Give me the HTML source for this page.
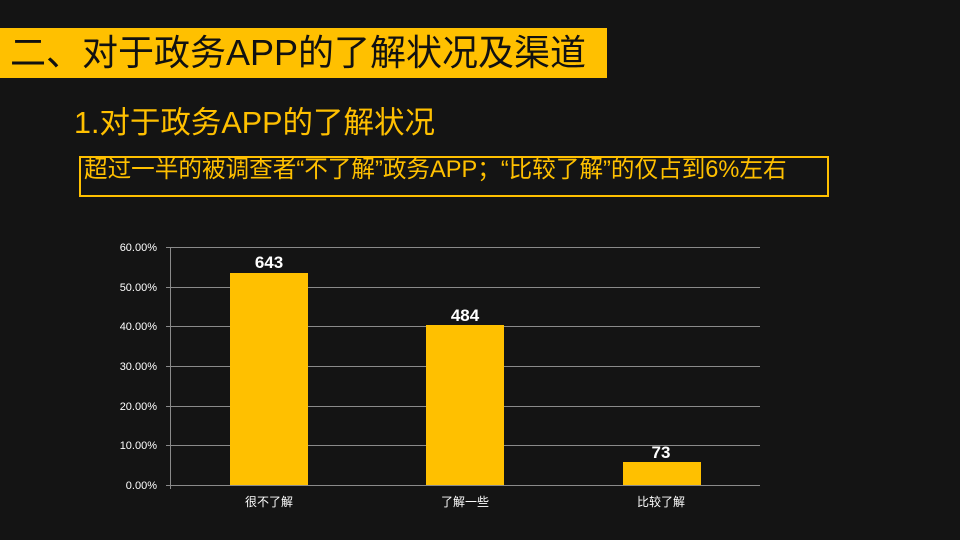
<!DOCTYPE html>
<html><head><meta charset="utf-8"><style>
body{margin:0;width:960px;height:540px;background:#141414;overflow:hidden;position:relative;font-family:"Liberation Sans","Noto Sans CJK SC",sans-serif}
.t{position:absolute;white-space:nowrap}
</style></head><body>
<div class="t" style="left:0;top:28px;width:607px;height:50px;background:#FFC000"></div>
<div class="t" style="left:10px;top:31px;font-size:36px;line-height:44px;color:#111">二、对于政务APP的了解状况及渠道</div>
<div class="t" style="left:74px;top:104px;font-size:30.5px;line-height:38px;color:#FFC000">1.对于政务APP的了解状况</div>
<div class="t" style="left:79px;top:156px;width:746px;height:37px;border:2px solid #FFC000"></div>
<div class="t" style="left:84px;top:155px;font-size:23.6px;line-height:30px;color:#FFC000">超过一半的被调查者“不了解”政务APP；“比较了解”的仅占到6%左右</div>
<svg width="960" height="540" style="position:absolute;left:0;top:0" font-family="Liberation Sans, Noto Sans CJK SC, sans-serif">
<g stroke="#8a8a8a" stroke-width="1">
<line x1="166" y1="247.5" x2="760" y2="247.5"/>
<line x1="166" y1="287.5" x2="760" y2="287.5"/>
<line x1="166" y1="326.5" x2="760" y2="326.5"/>
<line x1="166" y1="366.5" x2="760" y2="366.5"/>
<line x1="166" y1="406.5" x2="760" y2="406.5"/>
<line x1="166" y1="445.5" x2="760" y2="445.5"/>
<line x1="166" y1="485.5" x2="760" y2="485.5"/>
<line x1="170.5" y1="247" x2="170.5" y2="489"/>
</g>
<g fill="#fff" font-size="11" text-anchor="end">
<text x="157" y="251">60.00%</text><text x="157" y="291">50.00%</text><text x="157" y="330">40.00%</text>
<text x="157" y="370">30.00%</text><text x="157" y="410">20.00%</text><text x="157" y="449">10.00%</text><text x="157" y="489">0.00%</text>
</g>
<g fill="#FFC000">
<rect x="230" y="273" width="78" height="212"/>
<rect x="426" y="325" width="78" height="160"/>
<rect x="623" y="462" width="78" height="23"/>
</g>
<g fill="#fff" font-size="17" font-weight="bold" text-anchor="middle">
<text x="269" y="268">643</text><text x="465" y="321">484</text><text x="661" y="458">73</text>
</g>
<g fill="#fff" font-size="12" text-anchor="middle">
<text x="269" y="506">很不了解</text><text x="465" y="506">了解一些</text><text x="661" y="506">比较了解</text>
</g>
</svg>
</body></html>
